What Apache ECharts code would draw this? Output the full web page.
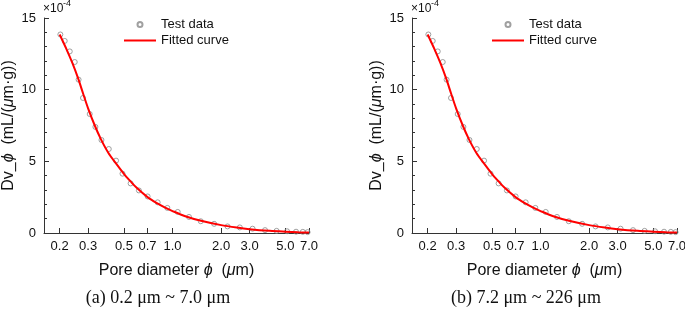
<!DOCTYPE html>
<html>
<head>
<meta charset="utf-8">
<script src="https://cdn.jsdelivr.net/npm/echarts@6/dist/echarts.min.js"></script>
<style>
  html, body { margin: 0; padding: 0; background: #fff; }
  #main { width: 685px; height: 309px; }
</style>
</head>
<body>
<div id="main"></div>
<script>
// pore diameter (um) / Dv (x1e-4)
var testX = [0.202, 0.215, 0.231, 0.248, 0.262, 0.279, 0.307, 0.333, 0.363, 0.403, 0.447, 0.490, 0.55, 0.619, 0.701,
  0.809, 0.929, 1.077, 1.265, 1.496, 1.81, 2.19, 2.61, 3.13, 3.74, 4.41, 5.12, 5.82, 6.41, 6.86];
var testY = [13.85, 13.40, 12.67, 11.93, 10.70, 9.42, 8.30, 7.40, 6.49, 5.86, 5.05, 4.14, 3.46, 2.97, 2.55,
  2.14, 1.75, 1.47, 1.12, 0.82, 0.64, 0.46, 0.39, 0.30, 0.20, 0.15, 0.12, 0.09, 0.08, 0.06];
var fitX = [0.2, 0.22, 0.24, 0.26, 0.28, 0.3, 0.33, 0.36, 0.4, 0.45, 0.5, 0.55, 0.6, 0.7, 0.8, 0.9, 1.0,
  1.2, 1.5, 2.0, 2.5, 3.0, 4.0, 5.0, 6.0, 7.0];
var fitY = [13.85, 12.85, 11.85, 10.8, 9.7, 8.7, 7.5, 6.55, 5.6, 4.8, 4.13, 3.6, 3.15, 2.5, 2.08, 1.77, 1.53,
  1.17, 0.85, 0.55, 0.38, 0.27, 0.15, 0.09, 0.05, 0.03];
var xTicks = [0.2, 0.3, 0.5, 0.7, 1.0, 2.0, 3.0, 5.0, 7.0];
var captions = ["(a) 0.2 \u03bcm ~ 7.0 \u03bcm", "(b) 7.2 \u03bcm ~ 226 \u03bcm"];
var panelLeft = [44, 412];

var FONT = "Arial, 'Liberation Sans', sans-serif";
var xMin = 0.16, xMax = 7.0;

var myChart = echarts.init(document.getElementById("main"));

var option = {
  animation: false,
  grid: [],
  xAxis: [],
  yAxis: [],
  legend: [],
  series: [],
  graphic: []
};

function pairs(xs, ys) {
  var out = [];
  for (var i = 0; i < xs.length; i++) out.push([xs[i], ys[i]]);
  return out;
}

for (var p = 0; p < 2; p++) {
  var left = panelLeft[p];
  option.grid.push({ left: left, top: 18, width: 265, height: 215, containLabel: false, outerBoundsMode: "none" });
  // log axis that carries the data
  option.xAxis.push({ type: "log", gridIndex: p, position: "bottom", min: xMin, max: xMax, show: false });
  // same range in log10 space, only for the tick marks and labels
  option.xAxis.push({
    type: "value",
    gridIndex: p,
    position: "bottom",
    min: Math.log10(xMin),
    max: Math.log10(xMax),
    axisLine: { show: true, onZero: false, lineStyle: { color: "#333", width: 1 } },
    axisTick: { inside: true, length: 5, customValues: xTicks.map(Math.log10), lineStyle: { color: "#333" } },
    axisLabel: {
      customValues: xTicks.map(Math.log10),
      formatter: function (v) { return Math.pow(10, v).toFixed(1); },
      color: "#111", fontSize: 13, fontFamily: FONT, margin: 7
    },
    splitLine: { show: false },
    name: "Pore diameter {i|\u03d5}  ({i|\u03bc}m)",
    nameLocation: "middle",
    nameGap: 30,
    nameTextStyle: { color: "#111", fontSize: 16, fontFamily: FONT,
      rich: { i: { fontStyle: "italic", fontSize: 16, fontFamily: FONT, color: "#111" } } }
  });
  option.yAxis.push({
    type: "value",
    gridIndex: p,
    min: 0,
    max: 15,
    interval: 5,
    axisLine: { show: true, onZero: false, lineStyle: { color: "#333", width: 1 } },
    axisTick: { inside: true, length: 5, lineStyle: { color: "#333" } },
    minorTick: { show: true, splitNumber: 5, length: 3, lineStyle: { color: "#333" } },
    splitLine: { show: false },
    axisLabel: { color: "#111", fontSize: 13, fontFamily: FONT, margin: 8 },
    name: "Dv_{i|\u03d5}  (mL/({i|\u03bc}m\u00b7g))",
    nameLocation: "middle",
    nameGap: 27,
    nameTextStyle: { color: "#111", fontSize: 16, fontFamily: FONT,
      rich: { i: { fontStyle: "italic", fontSize: 16, fontFamily: FONT, color: "#111" } } }
  });
  option.series.push({
    name: "Test data",
    type: "scatter",
    xAxisIndex: p * 2,
    yAxisIndex: p,
    symbol: "circle",
    symbolSize: 5,
    itemStyle: { color: "rgba(0,0,0,0)", borderColor: "#888", borderWidth: 1 },
    z: 2,
    data: pairs(testX, testY)
  });
  option.series.push({
    name: "Fitted curve",
    type: "line",
    xAxisIndex: p * 2,
    yAxisIndex: p,
    smooth: 0.3,
    symbol: "none",
    lineStyle: { color: "#ff0000", width: 2 },
    itemStyle: { color: "#ff0000" },
    z: 3,
    data: pairs(fitX, fitY)
  });
  option.legend.push({
    orient: "vertical",
    left: left + 79,
    top: 18,
    padding: 0,
    itemWidth: 32,
    itemHeight: 5,
    itemGap: 3,
    selectedMode: false,
    textStyle: { color: "#111", fontSize: 13, fontFamily: FONT },
    data: [
      { name: "Test data", icon: "circle" },
      { name: "Fitted curve", itemStyle: { opacity: 0 } }
    ]
  });
  option.graphic.push({
    type: "text", x: left - 1, y: 9,
    style: { text: "\u00d710", font: "12px " + FONT, fill: "#111", verticalAlign: "middle" }
  });
  option.graphic.push({
    type: "text", x: left + 19, y: 4,
    style: { text: "-4", font: "9px " + FONT, fill: "#111", verticalAlign: "middle" }
  });
  option.graphic.push({
    type: "text", x: left + 114, y: 298,
    style: { text: captions[p], font: "18px 'Liberation Serif', 'Times New Roman', serif", fill: "#111",
      align: "center", verticalAlign: "middle" }
  });
}

myChart.setOption(option);
window.addEventListener("resize", function () { myChart.resize(); });
</script>
</body>
</html>
